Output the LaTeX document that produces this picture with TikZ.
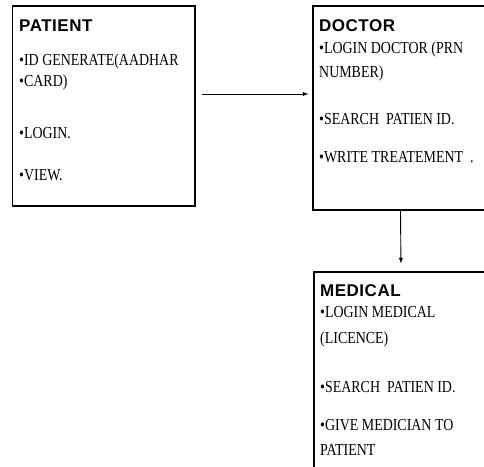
\documentclass[tikz,border=0pt]{standalone}
\usepackage{fontspec}
\newfontfamily\headfont[LetterSpace=3]{Liberation Sans}
\newfontfamily\bodyfont[FakeStretch=0.83]{Liberation Serif}
\tikzset{
    box/.style   = {draw, line width=1.2pt, rectangle, inner sep=0pt},
    head/.style  = {anchor=base west, inner sep=0pt, font=\headfont\bfseries\fontsize{17}{19}\selectfont},
    item/.style  = {anchor=base west, inner sep=0pt, font=\bodyfont\fontsize{16.8}{18}\selectfont},
    link/.style  = {-{latex}, line width=0.9pt}
}
\begin{document}
\begin{tikzpicture}[x=1pt, y=1pt]
            \clip (0, 0) rectangle (484, 466);
            % Kaesten
            \node [box, minimum width=182.5, minimum height=200] (patient) at (103.75, 360) {};
            \node [box, minimum width=175,   minimum height=204] (doctor)  at (400.5,  358) {};
            \node [box, minimum width=174,   minimum height=200] (medical) at (401,     94) {};
            % Patient
            \node [head] (ph) at (19, 434) {PATIENT};
            \node [item] (p1) at (19, 400) {•ID GENERATE(AADHAR};
            \node [item] (p2) at (19, 379) {•CARD)};
            \node [item] (p3) at (19, 327) {•LOGIN.};
            \node [item] (p4) at (19, 285) {•VIEW.};
            % Doctor
            \node [head] (dh) at (319, 434) {DOCTOR};
            \node [item] (d1) at (319, 412) {•LOGIN DOCTOR (PRN};
            \node [item] (d2) at (319, 388) {NUMBER)};
            \node [item] (d3) at (319, 341) {•SEARCH\ \ PATIEN ID.};
            \node [item] (d4) at (319, 303) {•WRITE TREATEMENT\ \ .};
            % Medical
            \node [head] (mh) at (320, 169) {MEDICAL};
            \node [item] (m1) at (320, 149) {•LOGIN MEDICAL};
            \node [item] (m2) at (320, 123) {(LICENCE)};
            \node [item] (m3) at (320,  74) {•SEARCH\ \ PATIEN ID.};
            \node [item] (m4) at (320,  36) {•GIVE MEDICIAN TO};
            \node [item] (m5) at (320,  11) {PATIENT};
            % Pfeile
            \draw [link, shorten <=6pt, shorten >=4pt] ([yshift=12pt]patient.east) -- ([yshift=12pt]patient.east -| doctor.west);
            \draw [link, shorten >=8pt] (doctor.south) -- (medical.north);
        \end{tikzpicture}
\end{document}
